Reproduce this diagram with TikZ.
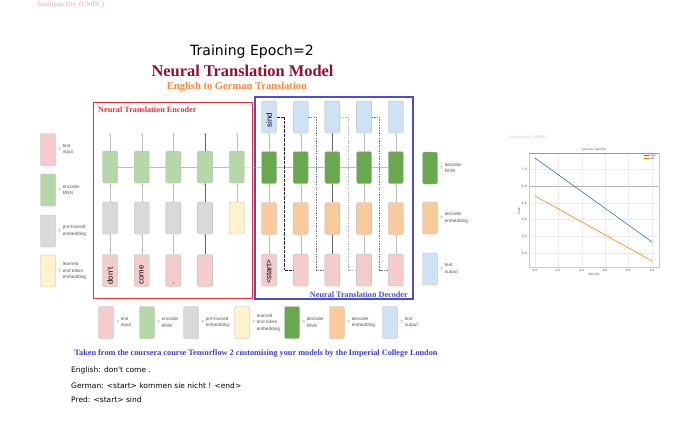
\documentclass[tikz,border=0pt]{standalone}
\usepackage{fontspec}
\setmainfont{Liberation Serif}
\setsansfont{Liberation Sans}
\newfontfamily\plotfont{DejaVu Sans}
\usetikzlibrary{arrows.meta,positioning}

\definecolor{txtin}{HTML}{F4CCCC}
\definecolor{encrnn}{HTML}{B6D7A8}
\definecolor{pretr}{HTML}{D9D9D9}
\definecolor{endtok}{HTML}{FFF2CC}
\definecolor{decrnn}{HTML}{6AA84F}
\definecolor{decemb}{HTML}{F9CB9C}
\definecolor{txtout}{HTML}{CFE2F3}
\definecolor{cellline}{HTML}{B7B7B7}
\definecolor{flowgray}{HTML}{BDBDBD}
\definecolor{hotgray}{HTML}{666666}
\definecolor{keytext}{HTML}{555555}
\definecolor{encred}{HTML}{E0303A}
\definecolor{decblue}{HTML}{4C4CD4}
\definecolor{modelred}{HTML}{8E1030}
\definecolor{subor}{HTML}{F5883C}
\definecolor{creditblue}{HTML}{3C3CD2}
\definecolor{wmark}{HTML}{F2A6A6}
\definecolor{mplblue}{HTML}{1F77B4}
\definecolor{mplorange}{HTML}{FF7F0E}

\begin{document}
\begin{tikzpicture}[x=0.03cm,y=-0.03cm,
     cell/.style={draw=cellline,line width=0.3pt,rounded corners=1.2pt,minimum width=0.45cm,minimum height=0.96cm,inner sep=0pt},
     word/.style={rotate=90,anchor=west,inner sep=0pt,font=\sffamily\fontsize{6.6}{8}\selectfont},
     flow/.style={draw=flowgray,line width=0.3pt,-{Stealth[length=1.4pt,width=1.4pt]}},
     hot/.style={flow,draw=hotgray,line width=0.45pt},
     fbdot/.style={draw=black!85,line width=0.4pt,dash pattern=on 0.5pt off 0.6pt},
     fbdash/.style={draw=black!55,line width=0.35pt,dash pattern=on 1.2pt off 1pt},
     fblight/.style={draw=black!30,line width=0.35pt,dash pattern=on 1.2pt off 1pt},
     eqs/.style={inner sep=0pt,font=\sffamily\fontsize{4}{5}\selectfont,text=keytext},
     key/.style={inner sep=0pt,align=left,font=\sffamily\fontsize{4}{5.5}\selectfont,text=keytext},
     sentence/.style={inner sep=0pt,anchor=base west,font=\plotfont\fontsize{6.4}{8}\selectfont},
     plotgrid/.style={draw=gray!15,line width=0.3pt},
     plotlbl/.style={inner sep=0pt,font=\plotfont\fontsize{2.6}{3}\selectfont,text=black!70}
     ]
\useasboundingbox (0,0) rectangle (676,423);

%Watermark and titles
\node[text=wmark,font=\fontsize{6}{7}\selectfont,anchor=base] (wm) at (71,6.5) {Sandipan Dey (UMBC)};
\node[font=\plotfont\fontsize{12}{14}\selectfont,anchor=base] (epoch) at (252,55.7) {Training Epoch=2};
\node[text=modelred,font=\bfseries\fontsize{14}{16}\selectfont,anchor=base] (model) at (242.5,76.5) {Neural Translation Model};
\node[text=subor,font=\bfseries\fontsize{9}{11}\selectfont,anchor=base] (sub) at (237,89.3) {English to German Translation};

%Encoder and decoder frames
\draw[draw=encred,line width=0.7pt] (93,102) rectangle (252,298);
\draw[draw=decblue,line width=0.9pt] (255,97) rectangle (413,299);
\node[text=encred,inner sep=0pt,font=\bfseries\fontsize{7}{8}\selectfont,anchor=base west] (enct) at (98,112) {Neural Translation Encoder};
\node[text=decblue,inner sep=0pt,font=\bfseries\fontsize{7}{8}\selectfont,anchor=base east] (dect) at (408,297) {Neural Translation Decoder};

%Column positions
\def\ex{110}
\def\dex{269}
\def\dx{31.7}

%Encoder columns
\foreach [count=\i] \c in {pretr,pretr,pretr,pretr,endtok}
   {
\pgfmathsetmacro{\cx}{\ex+(\i-1)*\dx}
\node[cell,fill=encrnn] (eg\i) at (\cx,167) {};
\node[cell,fill=\c] (ee\i) at (\cx,218) {};
\coordinate (eo\i) at (\cx,133);
   }
\foreach [count=\i] \w in {don't,come,.,{}}
   {
\pgfmathsetmacro{\cx}{\ex+(\i-1)*\dx}
\node[cell,fill=txtin] (ep\i) at (\cx,270.5) {};
\node[word] (ew\i) at ([yshift=1.8pt]ep\i.south) {\w};
   }

%Decoder columns
\foreach \i in {1,...,5}
   {
\pgfmathsetmacro{\cx}{\dex+(\i-1)*\dx}
\node[cell,fill=txtout] (db\i) at (\cx,117) {};
\node[cell,fill=decrnn] (dg\i) at (\cx,167.5) {};
\node[cell,fill=decemb] (de\i) at (\cx,218.5) {};
\node[cell,fill=txtin] (dp\i) at (\cx,270) {};
   }
\node[word] (dw1) at ([yshift=1.8pt]dp1.south) {<start>};
\node[word] (dw2) at ([yshift=5pt]db1.south) {sind};

%Encoder arrows
\foreach \i/\s in {1/flow,2/flow,3/flow,4/hot}
   \draw[\s] (ep\i) -- (ee\i);
\foreach \i/\s in {1/flow,2/flow,3/flow,4/hot,5/flow}
   {
\draw[\s] (ee\i) -- (eg\i);
\draw[\s] (eg\i) -- (eo\i);
   }
\foreach \i in {1,...,4}
   {
\pgfmathtruncatemacro{\j}{\i+1}
\draw[flow] (eg\i) -- (eg\j);
\draw[flow] (dg\i) -- (dg\j);
   }
\draw[flow] (eg5) -- (dg1);

%Decoder arrows
\foreach \i/\s in {1/flow,2/flow,3/hot,4/flow,5/flow}
   {
\draw[\s] (dp\i) -- (de\i);
\draw[\s] (de\i) -- (dg\i);
\draw[\s] (dg\i) -- (db\i);
   }

%Output fed back as next input
\foreach \i/\s in {1/fbdot,2/fbdash,3/fblight,4/fbdash}
   {
\pgfmathtruncatemacro{\j}{\i+1}
\pgfmathsetmacro{\cx}{\dex+(\i-1)*\dx+15.5}
\coordinate (dx\i) at (\cx,0);
\draw[\s] (db\i.east) -| (dx\i |- dp\j) -- (dp\j.west);
   }

%Legend on the left
\foreach [count=\i] \y/\c/\t in {149.5/txtin/{text\\input},190/encrnn/{encoder\\RNN},231/pretr/{pre-trained\\embedding},271/endtok/{learned\\end token\\embedding}}
   {
\node[cell,fill=\c] (lk\i) at (48,\y) {};
\node[eqs,right=2pt of lk\i] (lq\i) {=};
\node[key,right=1.2pt of lq\i] (lt\i) {\t};
   }

%Legend on the right
\foreach [count=\i] \y/\c/\t in {168/decrnn/{decoder\\RNN},218/decemb/{decoder\\embedding},269/txtout/{text\\output}}
   {
\node[cell,fill=\c] (rk\i) at (430,\y) {};
\node[eqs,right=2pt of rk\i] (rq\i) {=};
\node[key,right=1.2pt of rq\i] (rt\i) {\t};
   }

%Legend at the bottom
\foreach [count=\i] \x/\c/\t in {106/txtin/{text\\input},147/encrnn/{encoder\\RNN},191/pretr/{pre-trained\\embedding},242/endtok/{learned\\end token\\embedding},292/decrnn/{decoder\\RNN},337/decemb/{decoder\\embedding},390/txtout/{text\\output}}
   {
\node[cell,fill=\c] (bk\i) at (\x,322.5) {};
\node[eqs,right=2pt of bk\i] (bq\i) {=};
\node[key,right=1.2pt of bq\i] (bt\i) {\t};
   }

\node[text=creditblue,font=\bfseries\fontsize{7.05}{8}\selectfont,anchor=base] (credit) at (256,355) {Taken from the coursera course Tensorflow 2 customising your models by the Imperial College London};

%Sentences
\node[sentence] (eng) at (71,372.7) {English: don't come .};
\node[sentence] (ger) at (71,388.3) {German: <start> kommen sie nicht ! <end>};
\node[sentence] (pred) at (71,402.7) {Pred: <start> sind};

%Loss curves on the right
\def\axl{529}
\def\axr{659}
\def\axt{153}
\def\axb{267}
\node[text=wmark,font=\fontsize{3.4}{4}\selectfont] (pwm) at (528,138) {Sandipan Dey (UMBC)};
\foreach \gx in {535,558,582,605,628,652} \draw[plotgrid] (\gx,\axt) -- (\gx,\axb);
\foreach \gy in {169,203,219,236,253} \draw[plotgrid] (\axl,\gy) -- (\axr,\gy);
\draw[gray!55,line width=0.4pt] (\axl,186) -- (\axr,186);
\draw[gray!40,line width=0.3pt] (\axl,\axt) rectangle (\axr,\axb);
\draw[gray!80,line width=0.6pt] (\axl,\axt) -- (\axr,\axt);
\draw[mplblue,line width=0.5pt] (535,158) -- (652,242);
\draw[mplorange,line width=0.5pt] (535,196) -- (652,261);
\draw[mplblue,line width=0.5pt] (644,155) -- (648.5,155);
\draw[mplorange,line width=0.5pt] (644,158.5) -- (648.5,158.5);
\node[plotlbl,anchor=west] (lg1) at (649.5,155) {loss};
\node[plotlbl,anchor=west] (lg2) at (649.5,158.5) {val};
\node[plotlbl] (ptitle) at (594,149.5) {Loss vs. epochs};
\node[plotlbl,rotate=90] (ylab) at (519,211) {Loss};
\node[plotlbl] (xlab) at (594,275) {Epochs};
\foreach [count=\i] \gx/\v in {535/0.0,558/0.2,582/0.4,605/0.6,628/0.8,652/1.0}
   \node[plotlbl] (xt\i) at (\gx,270.5) {\v};
\foreach [count=\i] \gy/\v in {169/7.0,186/6.8,203/6.6,219/6.4,236/6.2,253/6.0}
   \node[plotlbl,anchor=east] (yt\i) at (527,\gy) {\v};
\end{tikzpicture}
\end{document}
